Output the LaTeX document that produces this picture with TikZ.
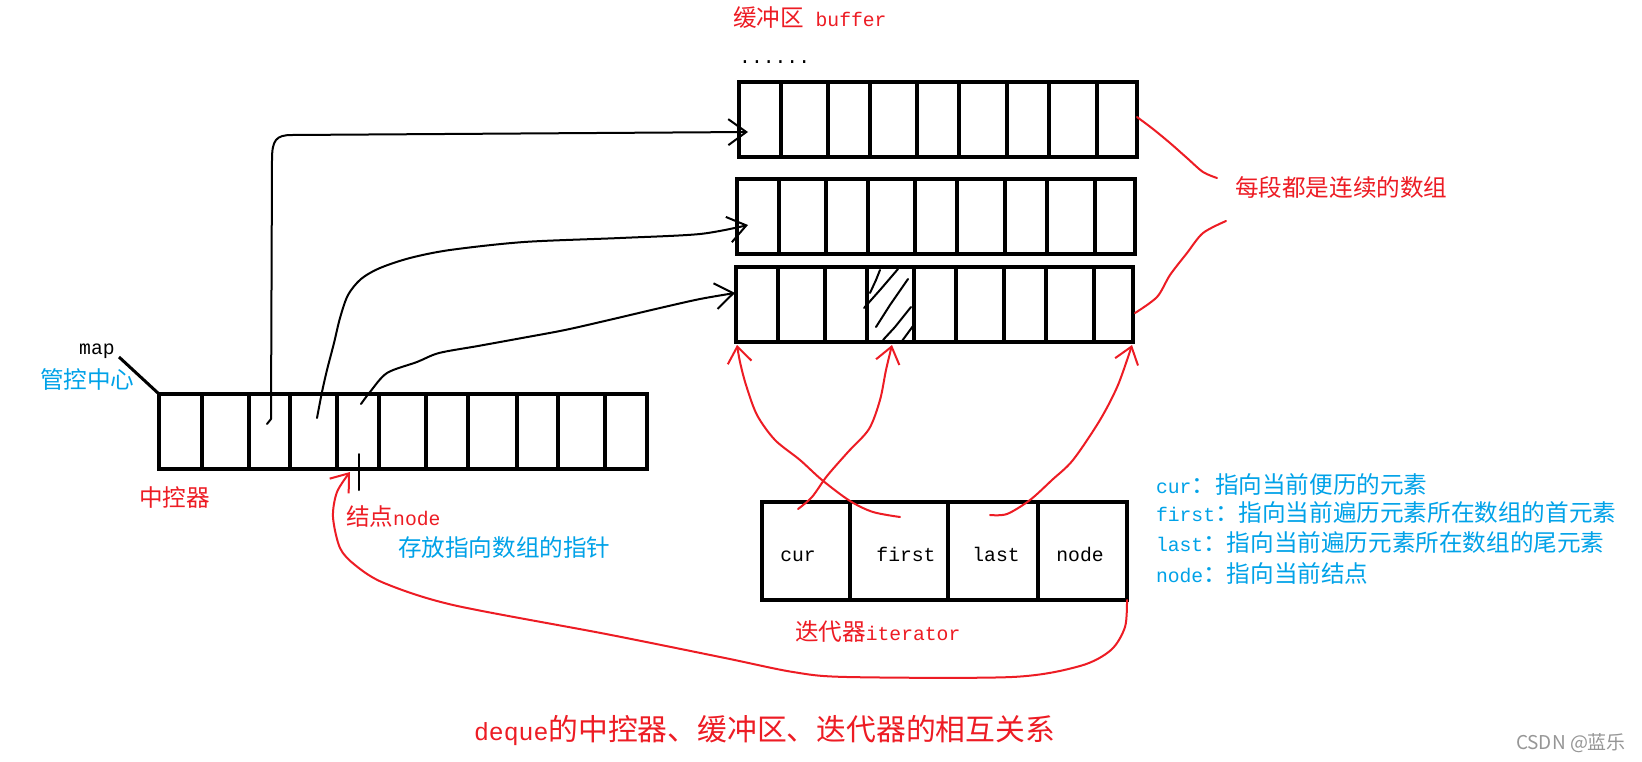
\documentclass[tikz,border=0pt]{standalone}
\usepackage{fontspec}
\newfontfamily\cjk{Noto Sans CJK SC}
\newfontfamily\mono{Liberation Mono}
\usetikzlibrary{arrows.meta,calc}
\definecolor{pred}{RGB}{237,28,36}
\definecolor{pblue}{RGB}{0,162,232}
\definecolor{wgray}{RGB}{150,150,150}
\newcommand\cjt[1]{{\cjk\fontsize{23.6}{28}\selectfont #1}}
\newcommand\latn[1]{{\mono\fontsize{19.7}{28}\selectfont #1}}
\newcommand\tcj[1]{{\cjk\fontsize{29.8}{34}\selectfont #1}}
\newcommand\tlat[1]{{\mono\fontsize{24.8}{34}\selectfont #1}}
\begin{document}
\begin{tikzpicture}[x=1pt,y=-1pt,
  arrbox/.style={draw,line width=4pt,inner sep=0pt,outer sep=0pt,anchor=north west},
  divider/.style={line width=4pt},
  conn/.style={line width=2pt,black,line cap=round,line join=round},
  rconn/.style={line width=2pt,pred,line cap=round,line join=round},
  barb/.style={-{Straight Barb[length=18pt,width=26pt]}},
  rbarb/.style={-{Straight Barb[length=16pt,width=24pt]}},
  lbl/.style={inner sep=0pt,outer sep=0pt,anchor=west},
  blbl/.style={inner sep=0pt,outer sep=0pt,anchor=base},
]
\fill[white] (0,0) rectangle (1642,761);
\useasboundingbox (0,0) rectangle (1642,761);

% buffer arrays
\node[arrbox,minimum width=398pt,minimum height=75pt] (buf1) at (739,82) {};
\node[arrbox,minimum width=398pt,minimum height=75pt] (buf2) at (737,179) {};
\node[arrbox,minimum width=397pt,minimum height=75pt] (buf3) at (736,267) {};
\foreach \bb in {buf1,buf2,buf3}{
  \foreach \xx in {42,89,131,178,220,268,310,358}
    \draw[divider] ([xshift=\xx pt]\bb.north west) -- ([xshift=\xx pt]\bb.south west);
}
% hatched cell
\draw[conn] (880,270) -- (876,280) -- (870,293);
\draw[conn] (898,269) -- (880,290) -- (864,308);
\draw[conn] (908,279) -- (890,305) -- (876,327);
\draw[conn] (911,307) -- (895,327) -- (883,340);
\draw[conn] (913,326) -- (902,341);

% map array
\node[arrbox,minimum width=488pt,minimum height=75pt] (map) at (159,394) {};
\foreach \xx in {43,90,131,178,220,267,309,358,399,446}
  \draw[divider] ([xshift=\xx pt]map.north west) -- ([xshift=\xx pt]map.south west);

% iterator
\node[arrbox,line width=3.5pt,minimum width=365pt,minimum height=98pt] (iter) at (762,502) {};
\foreach \xx in {88,186,276}
  \draw[line width=3.5pt] ([xshift=\xx pt]iter.north west) -- ([xshift=\xx pt]iter.south west);

% coordinates
\coordinate (m3) at (267,424);
\coordinate (m4) at (317,418);
\coordinate (m5) at (361,404);
\coordinate (b1tip) at (748,132);
\coordinate (b2tip) at (748,225);
\coordinate (b3tip) at (735,293);
\coordinate (ntop) at (359,454);
\coordinate (nbot) at (359,490);
\coordinate (itc) at (798,509);
\coordinate (itf) at (900,517);
\coordinate (itl) at (990,515);
\coordinate (b3bl) at (737,345);
\coordinate (b3h) at (892,345);
\coordinate (b3br) at (1132,345);
\coordinate (mapn) at (350,472);
\coordinate (buf1r) at (1137,117);
\coordinate (buf3r) at (1135,313);
\coordinate (seg1) at (1217,178);
\coordinate (seg2) at (1226,221);
\coordinate (mapl) at (119,357);

% black connectors
\draw[conn,barb] (m3) -- (271,419) -- (272,160) .. controls (272,140) and (276,135) .. (292,135) -- (b1tip);
\draw[conn,barb] plot[smooth,tension=0.5] coordinates {(m4) (322,392) (327,370) (334,343) (340,318) (348,295) (361,279) (380,268) (410,258) (450,250) (524,242) (620,238) (700,234) (b2tip)};
\draw[conn,barb] plot[smooth,tension=0.5] coordinates {(m5) (370,392) (387,373) (417,362) (439,353) (478,346) (522,338) (565,330) (609,320) (660,308) (700,299) (b3tip)};
\draw[conn] (ntop) -- (nbot);
\draw[line width=3pt,black] (mapl) -- (map.north west);

% red connectors
\draw[rconn,rbarb] plot[smooth,tension=0.5] coordinates {(itf) (873,512) (850,501) (822,480) (800,460) (775,440) (757,415) (746,385) (740,362) (b3bl)};
\draw[rconn,rbarb] plot[smooth,tension=0.5] coordinates {(itc) (812,497) (827,476) (848,452) (869,429) (880,400) (886,370) (b3h)};
\draw[rconn,rbarb] plot[smooth,tension=0.5] coordinates {(itl) (1007,514) (1030,500) (1052,480) (1073,460) (1100,420) (1118,385) (b3br)};
\draw[rconn,rbarb] plot[smooth,tension=0.5] coordinates {(iter.south east) (1125,627) (1111,650) (1080,666) (1012,677) (847,677) (793,672) (725,658) (606,634) (453,605) (384,583) (355,565) (340,548) (333,517) (337,492) (mapn)};
\draw[rconn] plot[smooth,tension=0.5] coordinates {(buf1r) (1153,129) (1170,143) (1187,158) (1203,172) (seg1)};
\draw[rconn] plot[smooth,tension=0.5] coordinates {(buf3r) (1157,297) (1170,275) (1187,253) (1203,233) (seg2)};

% texts
\node[lbl,pred] (tbuf) at (733,18) {\cjt{缓冲区}\latn{\ buffer}};
\node[inner sep=0pt,anchor=base west] (tdots) at (739,63) {\latn{......}};
\node[lbl,pred] (tseg) at (1235,188) {\cjt{每段都是连续的数组}};
\node[inner sep=0pt,anchor=base west] (tmap) at (79,354) {\latn{map}};
\node[lbl,pblue] (tctl) at (40,379) {\cjt{管控中心}};
\node[lbl,pred] (tzk) at (139,498) {\cjt{中控器}};
\node[lbl,pred] (tnode) at (346,517) {\cjt{结点}\latn{node}};
\node[lbl,pblue] (tptr) at (398,548) {\cjt{存放指向数组的指针}};
\node[blbl] (lcur) at (798,561) {\latn{cur}};
\node[blbl] (lfirst) at (906,561) {\latn{first}};
\node[blbl] (llast) at (996,561) {\latn{last}};
\node[blbl] (lnode) at (1080,561) {\latn{node}};
\node[lbl,pred] (titer) at (795,632) {\cjt{迭代器}\latn{iterator}};
\node[lbl,pblue] (d1) at (1156,485) {\latn{cur}\cjt{：指向当前便历的元素}};
\node[lbl,pblue] (d2) at (1156,513) {\latn{first}\cjt{：指向当前遍历元素所在数组的首元素}};
\node[lbl,pblue] (d3) at (1156,543) {\latn{last}\cjt{：指向当前遍历元素所在数组的尾元素}};
\node[lbl,pblue] (d4) at (1156,573) {\latn{node}\cjt{：指向当前结点}};
\node[lbl,pred] (title) at (474,730) {\tlat{deque}\tcj{的中控器、缓冲区、迭代器的相互关系}};
\node[lbl,wgray] (wm) at (1516,743) {\cjk\fontsize{19}{22}\selectfont CSDN @蓝乐};
\end{tikzpicture}
\end{document}
